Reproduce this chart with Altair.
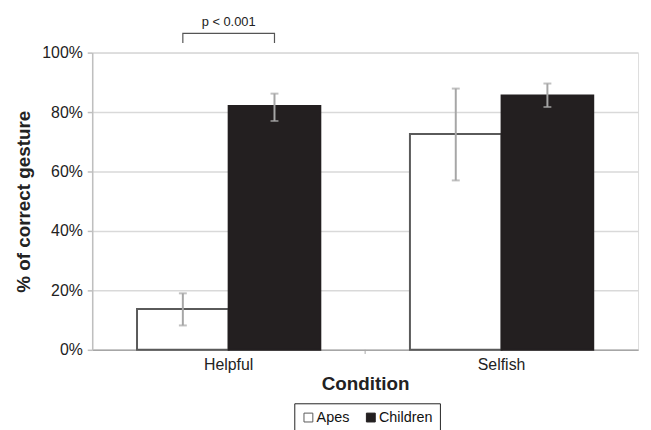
import altair as alt
import pandas as pd

conditions = ["Helpful", "Helpful", "Selfish", "Selfish"]
groups = ["Apes", "Children", "Apes", "Children"]
values = [13.7, 82.0, 72.6, 85.6]
err_low = [8.2, 77.0, 57.0, 81.7]
err_high = [19.0, 86.2, 87.9, 89.6]

# significance bracket (Helpful: Apes vs Children)
bracket_group = ["Apes", "Apes", "Children", "Children"]
bracket_y = [103.2, 106.5, 106.5, 103.2]
bracket_order = [0, 1, 2, 3]
sig_label = "p < 0.001"
sig_y = 108.8

FONT = "Liberation Sans"

df = pd.DataFrame({"Condition": conditions, "Group": groups, "Value": values,
                   "Low": err_low, "High": err_high})
bdf = pd.DataFrame({"Condition": ["Helpful"] * 4, "Group": bracket_group,
                    "y": bracket_y, "o": bracket_order})
tdf = pd.DataFrame({"Condition": ["Helpful"], "label": [sig_label], "y": [sig_y]})
tickdf = pd.DataFrame({"Condition": ["Selfish"], "y": [0.0], "y2": [-1.4]})

xscale = alt.Scale(domain=["Helpful", "Selfish"], paddingInner=0, paddingOuter=0)
xoff = alt.XOffset("Group:N", scale=alt.Scale(domain=["Apes", "Children"],
                                              paddingInner=0, paddingOuter=0.489))
yscale = alt.Scale(domain=[0, 100], nice=False)

xenc = alt.X("Condition:N", scale=xscale, title="Condition",
             axis=alt.Axis(labelAngle=0, ticks=False, domainColor="#a6a6a6",
                           domainWidth=1.5, labelFontSize=16, labelColor="#222",
                           labelPadding=7, titleFontSize=19, titleFontWeight="bold",
                           titleColor="#222", titlePadding=2, labelFont=FONT, titleFont=FONT))

bars = alt.Chart(df).mark_bar(strokeWidth=2).encode(
    x=xenc,
    xOffset=xoff,
    y=alt.Y("Value:Q", scale=yscale, title="% of correct gesture",
            axis=alt.Axis(values=[0, 20, 40, 60, 80, 100],
                          labelExpr="datum.value + '%'",
                          gridColor="#d9d9d9", gridWidth=1.5,
                          domainColor="#bfbfbf", domainWidth=1.5,
                          tickColor="#bfbfbf", tickSize=5, tickWidth=1.5,
                          labelFontSize=16, labelColor="#222", labelPadding=5,
                          titleFontSize=19, titleFontWeight="bold", titleColor="#222",
                          titlePadding=8, labelFont=FONT, titleFont=FONT)),
    color=alt.Color("Group:N",
                    scale=alt.Scale(domain=["Apes", "Children"], range=["#ffffff", "#231f20"]),
                    legend=alt.Legend(title=None, orient="none", direction="horizontal",
                                      legendX=204, legendY=354,
                                      strokeColor="#222", padding=7,
                                      symbolType="square", symbolSize=80,
                                      symbolStrokeColor="#222", symbolStrokeWidth=1,
                                      labelFontSize=14.5, labelFont=FONT, labelColor="#111",
                                      labelOffset=1, columnPadding=14)),
    stroke=alt.Stroke("Group:N",
                      scale=alt.Scale(domain=["Apes", "Children"], range=["#5a5a5a", "#231f20"]),
                      legend=None),
)

err = alt.Chart(df).mark_rule(color="#a6a6a6", strokeWidth=2).encode(
    x=alt.X("Condition:N", scale=xscale), xOffset=xoff,
    y=alt.Y("Low:Q", scale=yscale), y2="High:Q")
cap_lo = alt.Chart(df).mark_tick(color="#a6a6a6", thickness=2, size=8, orient="horizontal").encode(
    x=alt.X("Condition:N", scale=xscale), xOffset=xoff, y=alt.Y("Low:Q", scale=yscale))
cap_hi = alt.Chart(df).mark_tick(color="#a6a6a6", thickness=2, size=8, orient="horizontal").encode(
    x=alt.X("Condition:N", scale=xscale), xOffset=xoff, y=alt.Y("High:Q", scale=yscale))

bracket = alt.Chart(bdf).mark_line(color="#555", strokeWidth=1.2).encode(
    x=alt.X("Condition:N", scale=xscale), xOffset=xoff,
    y=alt.Y("y:Q", scale=yscale), order="o:Q")
sig = alt.Chart(tdf).mark_text(fontSize=13, font=FONT, color="#222", baseline="alphabetic").encode(
    x=alt.X("Condition:N", scale=xscale), y=alt.Y("y:Q", scale=yscale), text="label:N")
xtick = alt.Chart(tickdf).mark_rule(color="#a6a6a6", strokeWidth=1).encode(
    x=alt.X("Condition:N", scale=xscale, bandPosition=0),
    y=alt.Y("y:Q", scale=yscale), y2="y2:Q")

chart = alt.layer(bars, err, cap_lo, cap_hi, bracket, sig, xtick).properties(
    width=551, height=300, padding={"top": 6, "left": 7, "right": 5, "bottom": 5}
).configure_view(stroke=None).configure(background="white")

chart.save("out.html", embed_options={"renderer": "svg", "actions": False})
